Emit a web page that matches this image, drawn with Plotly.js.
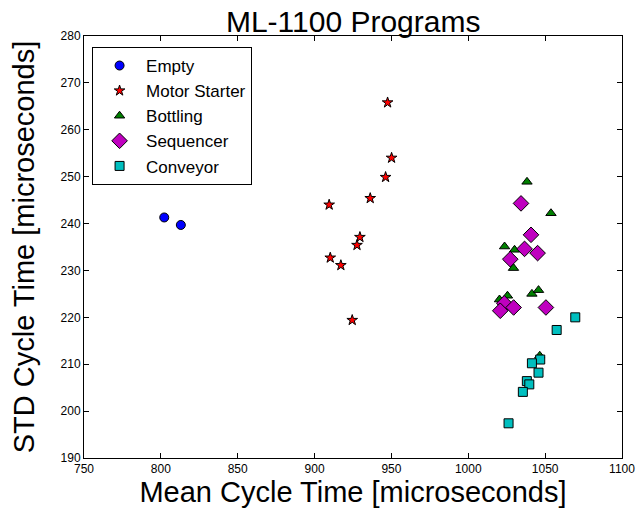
<!DOCTYPE html>
<html>
<head>
<meta charset="utf-8">
<script src="https://cdn.plot.ly/plotly-3.0.1.min.js"></script>
<style>html,body{margin:0;padding:0;background:#fff;}#chart{width:641px;height:510px;}</style>
</head>
<body>
<div id="chart"></div>
<script>
const seriesNames = ["Empty", "Motor Starter", "Bottling", "Sequencer", "Conveyor"];

const emptyX = [802.2, 813.0];
const emptyY = [241.3, 239.7];

const motorX = [947.5, 950.1, 946.2, 936.2, 909.5, 929.5, 927.6, 910.2, 917.1, 924.5];
const motorY = [265.8, 254.0, 249.9, 245.4, 244.0, 237.1, 235.4, 232.7, 231.1, 219.4];

const bottlingX = [1038.2, 1053.8, 1023.6, 1030.1, 1029.4, 1020.3, 1025.5, 1041.4, 1045.7, 1025.0, 1046.5];
const bottlingY = [248.9, 242.2, 235.1, 234.4, 230.5, 223.8, 224.6, 225.0, 225.8, 222.1, 211.8];

const sequencerX = [1034.3, 1040.8, 1036.6, 1045.1, 1027.3, 1023.4, 1020.8, 1029.5, 1050.5];
const sequencerY = [244.3, 237.6, 234.6, 233.7, 232.4, 223.0, 221.4, 222.1, 222.1];

const conveyorX = [1069.6, 1057.5, 1046.8, 1041.4, 1045.7, 1038.1, 1039.7, 1035.5, 1026.2];
const conveyorY = [220.0, 217.3, 211.0, 210.2, 208.2, 206.4, 205.7, 204.1, 197.4];

const xTicks = [750, 800, 850, 900, 950, 1000, 1050, 1100];
const yTicks = [190, 200, 210, 220, 230, 240, 250, 260, 270, 280];

const font = "Liberation Sans, Arial, sans-serif";

function tr(name, x, y, symbol, color, size) {
  return {
    type: "scatter", mode: "markers", name: name, x: x, y: y,
    legendgroup: name,
    marker: {symbol: symbol, color: color, size: size, line: {color: "#000", width: 1}}
  };
}

const data = [
  tr(seriesNames[0], emptyX, emptyY, "circle", "#0000ff", 9),
  tr(seriesNames[1], motorX, motorY, "star", "#ff0000", 8),
  tr(seriesNames[2], bottlingX, bottlingY, "triangle-up", "#008000", 9),
  tr(seriesNames[3], sequencerX, sequencerY, "diamond", "#bf00bf", 12),
  tr(seriesNames[4], conveyorX, conveyorY, "square", "#00bfbf", 9)
];

const axisBase = {
  showline: true, linecolor: "#000", linewidth: 1, mirror: "ticks",
  ticks: "inside", ticklen: 5, tickcolor: "#000", tickwidth: 1,
  showgrid: false, zeroline: false,
  tickfont: {family: font, size: 12, color: "#000"}
};

const layout = {
  width: 641, height: 510,
  margin: {l: 84, r: 19, t: 36, b: 52},
  paper_bgcolor: "#fff", plot_bgcolor: "#fff",
  title: {text: "ML-1100 Programs", font: {family: font, size: 30, color: "#000"}, x: 0.551, xanchor: "center", y: 0.958, yanchor: "middle"},
  xaxis: Object.assign({}, axisBase, {
    range: [750, 1100], tickvals: xTicks, ticktext: xTicks.map(String),
    title: {text: "Mean Cycle Time [microseconds]", font: {family: font, size: 29, color: "#000"}, standoff: 3}
  }),
  yaxis: Object.assign({}, axisBase, {
    range: [190, 280], tickvals: yTicks, ticktext: yTicks.map(String),
    title: {text: "STD Cycle Time [microseconds]", font: {family: font, size: 29, color: "#000"}, standoff: 17}
  }),
  showlegend: true,
  legend: {
    x: 0.015, y: 0.974, xanchor: "left", yanchor: "top",
    bordercolor: "#000", borderwidth: 1, bgcolor: "#fff",
    font: {family: font, size: 17, color: "#000"},
    tracegroupgap: 0, itemwidth: 43
  }
};

Plotly.newPlot("chart", data, layout, {displayModeBar: false, staticPlot: true});
</script>
</body>
</html>
